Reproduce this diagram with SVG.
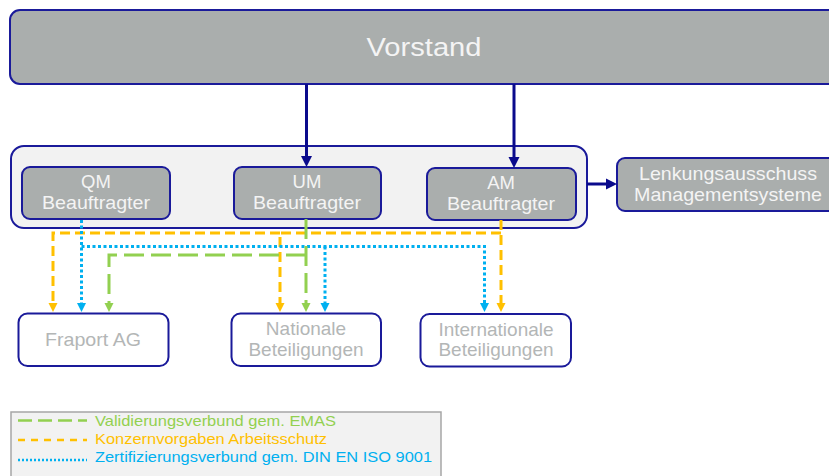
<svg xmlns="http://www.w3.org/2000/svg" width="829" height="476" viewBox="0 0 829 476">
<defs>
<style>
.gbox{fill:#aaaead;stroke:#1a1a9a;stroke-width:2}
.wbox{fill:#ffffff;stroke:#1a1a9a;stroke-width:2}
.grp{fill:#f2f2f2;stroke:#1a1a9a;stroke-width:2}
.wt{font-family:"Liberation Sans",Arial,sans-serif;fill:#f4f4f4;text-anchor:middle}
.gt{font-family:"Liberation Sans",Arial,sans-serif;fill:#b3b6b6;text-anchor:middle;font-size:19px}
.nav{stroke:#0a0a8c;stroke-width:3;fill:none}
.or{stroke:#ffc000;stroke-width:3;fill:none;stroke-dasharray:10 5}
.gr{stroke:#92d050;stroke-width:3;fill:none;stroke-dasharray:20 7}
.bl{stroke:#00b0f0;stroke-width:3;fill:none;stroke-dasharray:3 2.5}
.lt{font-family:"Liberation Sans",Arial,sans-serif;font-size:15px}
</style>
<marker id="aN" viewBox="0 0 10 10" refX="0" refY="5" markerUnits="userSpaceOnUse" markerWidth="11" markerHeight="12" orient="auto"><path d="M0,0 L10,5 L0,10 z" fill="#0a0a8c"/></marker>
<marker id="aO" viewBox="0 0 10 10" refX="0" refY="5" markerUnits="userSpaceOnUse" markerWidth="9" markerHeight="10" orient="auto"><path d="M0,0 L10,5 L0,10 z" fill="#ffc000"/></marker>
<marker id="aG" viewBox="0 0 10 10" refX="0" refY="5" markerUnits="userSpaceOnUse" markerWidth="9" markerHeight="10" orient="auto"><path d="M0,0 L10,5 L0,10 z" fill="#92d050"/></marker>
<marker id="aB" viewBox="0 0 10 10" refX="0" refY="5" markerUnits="userSpaceOnUse" markerWidth="9" markerHeight="10" orient="auto"><path d="M0,0 L10,5 L0,10 z" fill="#00b0f0"/></marker>
</defs>

<g id="vorstand">
<rect class="gbox" x="10" y="10" width="830" height="74" rx="10"/>
<text class="wt" x="424" y="56" font-size="26" textLength="115" lengthAdjust="spacingAndGlyphs">Vorstand</text>
</g>

<g id="beauftragte-gruppe">
<rect class="grp" x="11" y="146" width="576" height="82" rx="13"/>
</g>

<g id="qm">
<rect class="gbox" x="22" y="167" width="148" height="52" rx="8"/>
<text class="wt" x="96" y="188" font-size="18.5">QM</text>
<text class="wt" x="96" y="209" font-size="18.5" textLength="108" lengthAdjust="spacingAndGlyphs">Beauftragter</text>
</g>
<g id="um">
<rect class="gbox" x="234" y="167" width="147" height="52" rx="8"/>
<text class="wt" x="307" y="188" font-size="18.5">UM</text>
<text class="wt" x="307" y="209" font-size="18.5" textLength="108" lengthAdjust="spacingAndGlyphs">Beauftragter</text>
</g>
<g id="am">
<rect class="gbox" x="427" y="168" width="149" height="52" rx="8"/>
<text class="wt" x="501" y="189" font-size="18.5">AM</text>
<text class="wt" x="501" y="210" font-size="18.5" textLength="108" lengthAdjust="spacingAndGlyphs">Beauftragter</text>
</g>

<g id="lenkungsausschuss">
<rect class="gbox" x="617" y="158" width="225" height="53" rx="8"/>
<text class="wt" x="728" y="180" font-size="18.5" textLength="178" lengthAdjust="spacingAndGlyphs">Lenkungsausschuss</text>
<text class="wt" x="728" y="201" font-size="18.5" textLength="188" lengthAdjust="spacingAndGlyphs">Managementsysteme</text>
</g>

<g id="fraport">
<rect class="wbox" x="18.5" y="313.5" width="150" height="52.5" rx="9"/>
<text class="gt" x="93" y="346" textLength="96" lengthAdjust="spacingAndGlyphs">Fraport AG</text>
</g>
<g id="nationale">
<rect class="wbox" x="231.5" y="313.5" width="149.5" height="52.5" rx="9"/>
<text class="gt" x="306" y="335">Nationale</text>
<text class="gt" x="306" y="355.5">Beteiligungen</text>
</g>
<g id="internationale">
<rect class="wbox" x="420.5" y="314" width="150.5" height="52.5" rx="9"/>
<text class="gt" x="496" y="335.5">Internationale</text>
<text class="gt" x="496" y="356">Beteiligungen</text>
</g>

<g id="connectors">
<path class="nav" d="M306.5,84 V156" marker-end="url(#aN)"/>
<path class="nav" d="M514,84 V157" marker-end="url(#aN)"/>
<path class="nav" d="M587,184 H606" marker-end="url(#aN)"/>

<path class="or" d="M501,220 V303" marker-end="url(#aO)"/>
<path class="or" d="M501,233 H280 V303" marker-end="url(#aO)"/>
<path class="or" d="M280,233 H53 V303" marker-end="url(#aO)"/>

<path class="bl" d="M81.5,220 V303" marker-end="url(#aB)"/>
<path class="bl" d="M81.5,246.5 H484.5 V303" marker-end="url(#aB)"/>
<path class="bl" d="M325,246.5 V303" marker-end="url(#aB)"/>

<path class="gr" d="M306,219 V303" marker-end="url(#aG)"/>
<path class="gr" d="M306,255 H109 V303" marker-end="url(#aG)"/>
</g>

<g id="legende">
<rect x="11" y="412" width="430" height="70" fill="#f2f2f2" stroke="#a6a6a6" stroke-width="1.5"/>
<line x1="18" y1="420.5" x2="87" y2="420.5" stroke="#92d050" stroke-width="2.5" stroke-dasharray="14 6"/>
<line x1="18" y1="440" x2="87" y2="440" stroke="#ffc000" stroke-width="2.5" stroke-dasharray="7 6"/>
<line x1="18" y1="460" x2="87" y2="460" stroke="#00b0f0" stroke-width="2.5" stroke-dasharray="2 2"/>
<text class="lt" x="95" y="426" fill="#92d050" textLength="241" lengthAdjust="spacingAndGlyphs">Validierungsverbund gem. EMAS</text>
<text class="lt" x="95" y="444" fill="#ffc000" textLength="232" lengthAdjust="spacingAndGlyphs">Konzernvorgaben Arbeitsschutz</text>
<text class="lt" x="95" y="462" fill="#00b0f0" textLength="337" lengthAdjust="spacingAndGlyphs">Zertifizierungsverbund gem. DIN EN ISO 9001</text>
</g>
</svg>
